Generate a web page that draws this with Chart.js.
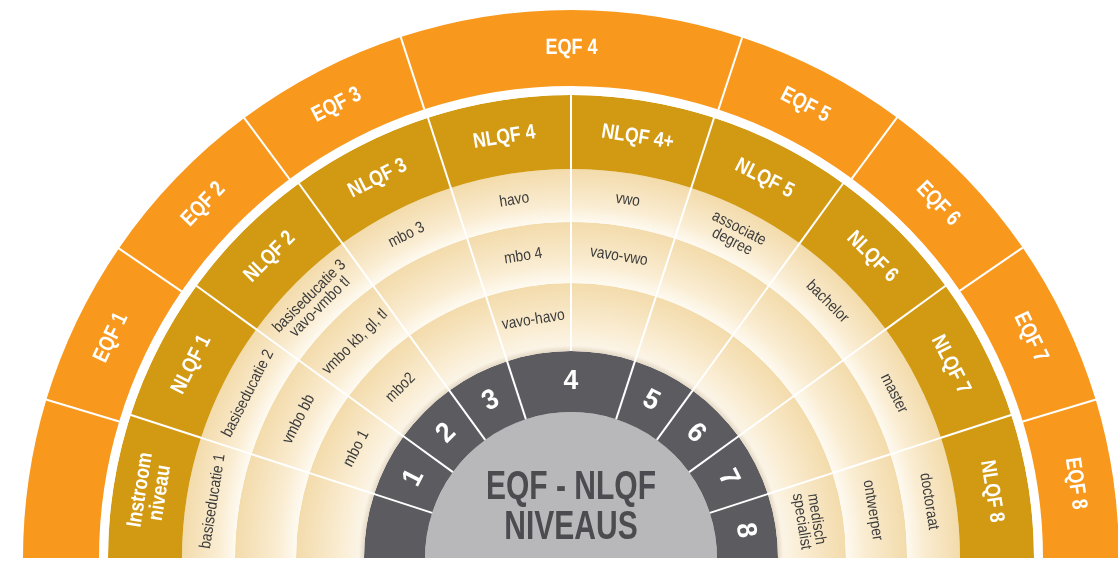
<!DOCTYPE html>
<html lang="nl">
<head>
  <meta charset="UTF-8">
  <title>EQF - NLQF niveaus</title>
  <script src="https://cdn.jsdelivr.net/npm/chart.js"></script>
  <style>
    html, body { margin: 0; padding: 0; background: #fff; }
    #wrap { width: 1118px; height: 561px; position: relative; }
  </style>
</head>
<body>
  <div id="wrap"><canvas id="niveaus"></canvas></div>
  <script>
    // ring segments, in degrees from the left end of the half circle
    const eqfNames = ['', 'EQF 1', 'EQF 2', 'EQF 3', 'EQF 4', 'EQF 5', 'EQF 6', 'EQF 7', 'EQF 8'];
    const eqfSpan = [16.8, 17.6, 19, 18.5, 36.3, 18.3, 19, 17.7, 16.8];
    const nlqfNames = ['Instroom\nniveau', 'NLQF 1', 'NLQF 2', 'NLQF 3', 'NLQF 4', 'NLQF 4+', 'NLQF 5', 'NLQF 6', 'NLQF 7', 'NLQF 8'];
    const nlqfSpan = [18, 18, 18, 18, 18, 18, 18, 18, 18, 18];
    const rowOuter = ['basiseducatie 1', 'basiseducatie 2', 'basiseducatie 3\nvavo-vmbo tl', 'mbo 3', 'havo', 'vwo', 'associate\ndegree', 'bachelor', 'master', 'doctoraat'];
    const rowMiddle = ['', 'vmbo bb', 'vmbo kb, gl, tl', '', 'mbo 4', 'vavo-vwo', '', '', '', 'ontwerper'];
    const rowInner = ['', 'mbo 1', 'mbo2', '', 'vavo-havo', '', '', '', '', 'medisch\nspecialist'];
    const levelNames = ['', '1', '2', '3', '4', '5', '6', '7', '8'];
    const levelSpan = [18, 18, 18, 18, 36, 18, 18, 18, 18];
    const centerTitle = ['EQF - NLQF', 'NIVEAUS'];

    const FONT = "'Liberation Sans', Arial, sans-serif";

    function creamFill(stops) {
      return (c) => {
        const chart = c.chart, area = chart.chartArea;
        const ctrl = chart.getDatasetMeta(c.datasetIndex).controller;
        if (!area || !ctrl || !ctrl.outerRadius) return '#F6E4BE';
        const x = (area.left + area.right) / 2 + ctrl.offsetX;
        const y = (area.top + area.bottom) / 2 + ctrl.offsetY;
        const g = chart.ctx.createRadialGradient(x, y, ctrl.innerRadius, x, y, ctrl.outerRadius);
        stops.forEach(s => g.addColorStop(s[0], s[1]));
        return g;
      };
    }
    const bandStops = [[0, '#FEFAF1'], [0.3, '#FAEDD3'], [1, '#F3DBAB']];
    const innerStops = [[0, '#E6DAC6'], [0.08, '#FBF4E6'], [0.35, '#FAEDD3'], [1, '#F3DBAB']];

    // spokes between segments and the texts, placed from the arc elements
    const ringText = {
      id: 'ringText',
      afterDatasetsDraw(chart) {
        const ctx = chart.ctx;
        chart.data.datasets.forEach((ds, di) => {
          if (!ds.spoke) return;
          chart.getDatasetMeta(di).data.forEach((arc, i) => {
            if (i === 0) return;
            const a = arc.startAngle;
            ctx.save();
            ctx.strokeStyle = '#fff';
            ctx.lineWidth = ds.spoke;
            ctx.beginPath();
            ctx.moveTo(arc.x + Math.cos(a) * arc.innerRadius, arc.y + Math.sin(a) * arc.innerRadius);
            ctx.lineTo(arc.x + Math.cos(a) * (arc.outerRadius + 0.5), arc.y + Math.sin(a) * (arc.outerRadius + 0.5));
            ctx.stroke();
            ctx.restore();
          });
        });
        chart.data.datasets.forEach((ds, di) => {
          if (!ds.names) return;
          const f = ds.text;
          chart.getDatasetMeta(di).data.forEach((arc, i) => {
            const name = ds.names[i];
            if (!name) return;
            const a = (arc.startAngle + arc.endAngle) / 2;
            const r = (arc.innerRadius + arc.outerRadius) / 2 + (f.shift || 0);
            const lines = name.split('\n');
            ctx.save();
            ctx.translate(arc.x + Math.cos(a) * r, arc.y + Math.sin(a) * r);
            ctx.rotate(a + Math.PI / 2);
            ctx.scale(f.scaleX, 1);
            ctx.fillStyle = f.color;
            ctx.font = f.weight + ' ' + f.size + 'px ' + FONT;
            ctx.textAlign = 'center';
            ctx.textBaseline = 'middle';
            lines.forEach((ln, k) => {
              ctx.fillText(ln, 0, (k - (lines.length - 1) / 2) * f.lineHeight);
            });
            ctx.restore();
          });
        });
        const core = chart.getDatasetMeta(chart.data.datasets.length - 1).data[0];
        ctx.save();
        ctx.fillStyle = '#4B4B50';
        ctx.font = 'bold 40px ' + FONT;
        ctx.textAlign = 'center';
        ctx.textBaseline = 'middle';
        centerTitle.forEach((t, k) => {
          ctx.save();
          ctx.translate(core.x, core.y - 70 + k * 40);
          ctx.scale(0.75, 1);
          ctx.fillText(t, 0, 0);
          ctx.restore();
        });
        ctx.restore();
      }
    };

    const whiteBold = (size, scaleX) => ({ size, weight: 'bold', color: '#fff', scaleX, lineHeight: size * 0.95 });
    const darkText = { size: 16, weight: 'normal', color: '#3B3B3B', scaleX: 0.86, lineHeight: 15 };

    new Chart(document.getElementById('niveaus'), {
      type: 'doughnut',
      data: {
        labels: nlqfNames,
        datasets: [
          { data: eqfSpan, names: eqfNames, backgroundColor: '#F8981D', borderWidth: 0, weight: 76, spoke: 2, text: whiteBold(22, 0.82) },
          { data: [180], backgroundColor: '#FFFFFF', borderWidth: 0, weight: 9 },
          { data: nlqfSpan, names: nlqfNames, backgroundColor: '#D29A12', borderWidth: 0, weight: 74, spoke: 2, text: whiteBold(21, 0.84) },
          { data: nlqfSpan, names: rowOuter, backgroundColor: creamFill(bandStops), borderWidth: 0, weight: 53, spoke: 2, text: darkText },
          { data: nlqfSpan, names: rowMiddle, backgroundColor: creamFill(bandStops), borderWidth: 0, weight: 61, spoke: 2, text: darkText },
          { data: nlqfSpan, names: rowInner, backgroundColor: creamFill(innerStops), borderWidth: 0, weight: 68, spoke: 2, text: darkText },
          { data: levelSpan, names: levelNames, backgroundColor: '#5B5B60', borderWidth: 0, weight: 61, spoke: 2, text: whiteBold(28, 0.95) },
          { data: [180], backgroundColor: '#B8B8BB', borderWidth: 0, weight: 146 }
        ]
      },
      options: {
        responsive: true,
        maintainAspectRatio: false,
        animation: false,
        events: [],
        circumference: 180,
        rotation: -90,
        cutout: 0,
        radius: 548,
        layout: { padding: { left: 24, top: 7, right: 0, bottom: 0 } },
        plugins: { legend: { display: false }, tooltip: { enabled: false } }
      },
      plugins: [ringText]
    });
  </script>
</body>
</html>
